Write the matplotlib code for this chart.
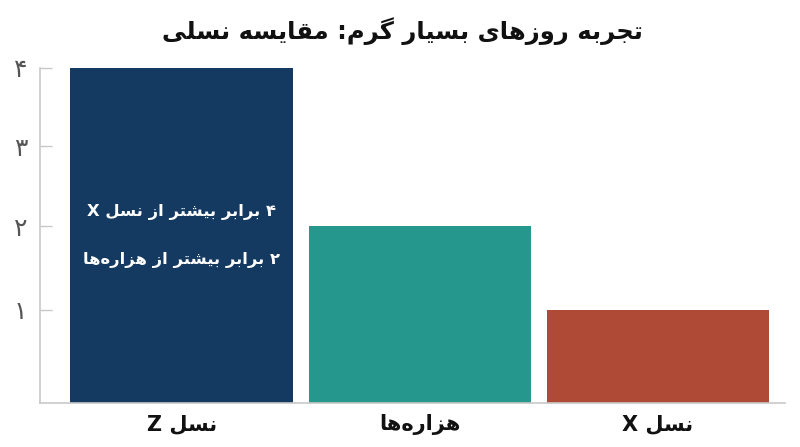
import matplotlib
matplotlib.use("Agg")
import matplotlib.pyplot as plt
import numpy as np

# ---------------- data ----------------
categories = ["نسل Z", "هزاره‌ها", "نسل X"]
values = [4, 2, 1]
bar_colors = ["#143A62", "#26978C", "#AF4A37"]
ytick_values = [1, 2, 3, 4]
ytick_labels = ["۱", "۲", "۳", "۴"]
title_text = "تجربه روزهای بسیار گرم: مقایسه نسلی"
note_lines = ["۴ برابر بیشتر از نسل X", "۲ برابر بیشتر از هزاره‌ها"]

# ---------------- minimal Persian shaping (no external libs) ----------------
# forms: isolated, final, initial, medial (None = not available)
FORMS = {
    "ا": ("\uFE8D", "\uFE8E", None, None),
    "ب": ("\uFE8F", "\uFE90", "\uFE91", "\uFE92"),
    "ت": ("\uFE95", "\uFE96", "\uFE97", "\uFE98"),
    "ج": ("\uFE9D", "\uFE9E", "\uFE9F", "\uFEA0"),
    "ر": ("\uFEAD", "\uFEAE", None, None),
    "ز": ("\uFEAF", "\uFEB0", None, None),
    "س": ("\uFEB1", "\uFEB2", "\uFEB3", "\uFEB4"),
    "ش": ("\uFEB5", "\uFEB6", "\uFEB7", "\uFEB8"),
    "ق": ("\uFED5", "\uFED6", "\uFED7", "\uFED8"),
    "ل": ("\uFEDD", "\uFEDE", "\uFEDF", "\uFEE0"),
    "م": ("\uFEE1", "\uFEE2", "\uFEE3", "\uFEE4"),
    "ن": ("\uFEE5", "\uFEE6", "\uFEE7", "\uFEE8"),
    "ه": ("\uFEE9", "\uFEEA", "\uFEEB", "\uFEEC"),
    "و": ("\uFEED", "\uFEEE", None, None),
    "ی": ("\uFBFC", "\uFBFD", "\uFBFE", "\uFBFF"),
    "گ": ("\uFB92", "\uFB93", "\uFB94", "\uFB95"),
}


def dual(c):
    return c in FORMS and FORMS[c][2] is not None


def joining(c):
    return c in FORMS


def shape(text):
    out = []
    n = len(text)
    for i, c in enumerate(text):
        if c not in FORMS:
            if c != "\u200c":
                out.append(c)
            continue
        prev_c = text[i - 1] if i > 0 else ""
        next_c = text[i + 1] if i < n - 1 else ""
        jp = dual(prev_c)
        jn = dual(c) and joining(next_c)
        iso, fin, ini, med = FORMS[c]
        if jp and jn:
            out.append(med)
        elif jp:
            out.append(fin)
        elif jn:
            out.append(ini)
        else:
            out.append(iso)
    return "".join(out)


def rtl(text):
    return shape(text)[::-1]


# ---------------- figure ----------------
plt.rcParams["font.family"] = ["DejaVu Sans"]
fig = plt.figure(figsize=(8, 4.47), dpi=100)
ax = fig.add_axes([0.05, 0.0984, 0.93125, 0.7502])

p = 0.925
ax.set_yscale("function", functions=(lambda v: np.sign(v) * np.abs(v) ** p,
                                       lambda v: np.sign(v) * np.abs(v) ** (1 / p)))

x = np.arange(len(categories))
ax.bar(x, values, width=0.935, color=bar_colors, zorder=2)

ax.set_xlim(-0.595, 2.533)
ax.set_ylim(0, 4)

ax.set_yticks(ytick_values)
ax.set_yticklabels(ytick_labels, fontsize=18, color="#555555")
ax.tick_params(axis="y", direction="in", length=8.5, width=1, color="#c8c8c8", pad=9)
ax.tick_params(axis="y", which="minor", left=False)
ax.set_xticks(x)
ax.set_xticklabels([rtl(c) for c in categories], fontsize=15, fontweight="bold", color="#111111")
ax.tick_params(axis="x", length=0, pad=8)

for s in ["top", "right"]:
    ax.spines[s].set_visible(False)
for s in ["left", "bottom"]:
    ax.spines[s].set_color("#c8c8c8")
    ax.spines[s].set_linewidth(1.2)

fig.text(0.503, 0.93, rtl(title_text), ha="center", va="center",
         fontsize=17.5, fontweight="bold", color="#111111")

ax.text(0, 2.18, rtl(note_lines[0]), ha="center", va="center", color="white",
        fontsize=11.8, fontweight="bold", zorder=3)
ax.text(0, 1.59, rtl(note_lines[1]), ha="center", va="center", color="white",
        fontsize=11.8, fontweight="bold", zorder=3)

fig.savefig("out.png", dpi=100)
